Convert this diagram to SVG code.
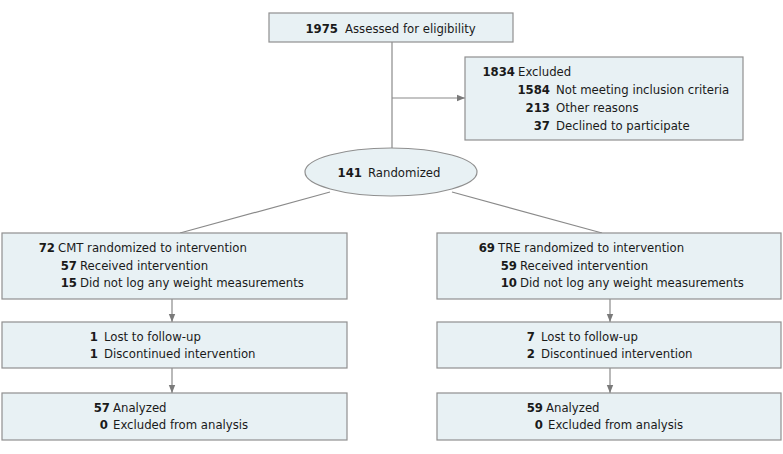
<svg xmlns="http://www.w3.org/2000/svg" width="783" height="454" viewBox="0 0 783 454">
<defs>
<style>
.box{fill:#e8f1f4;stroke:#8f8f8f;stroke-width:1.2}
.ln{stroke:#8a8a8a;stroke-width:1.2;fill:none}
text{font-family:"DejaVu Sans Condensed","Liberation Sans",Arial,sans-serif;font-size:13px;fill:#1a1a1a}
.n{font-weight:bold;text-anchor:end}
</style>
<marker id="ah" viewBox="0 0 10 10" refX="10" refY="5" markerWidth="8" markerHeight="8" markerUnits="userSpaceOnUse" orient="auto">
<path d="M0,1 L10,5 L0,9 Z" fill="#7a7a7a"/>
</marker>
</defs>
<rect width="783" height="454" fill="#ffffff"/>
<g id="connectors">
<line class="ln" x1="392" y1="42" x2="392" y2="148"/>
<line class="ln" x1="392" y1="98" x2="465" y2="98" marker-end="url(#ah)"/>
<line class="ln" x1="330" y1="192" x2="180" y2="233"/>
<line class="ln" x1="452" y1="192" x2="602" y2="233"/>
<line class="ln" x1="172" y1="299" x2="172" y2="322" marker-end="url(#ah)"/>
<line class="ln" x1="172" y1="368" x2="172" y2="393" marker-end="url(#ah)"/>
<line class="ln" x1="610" y1="299" x2="610" y2="322" marker-end="url(#ah)"/>
<line class="ln" x1="610" y1="368" x2="610" y2="393" marker-end="url(#ah)"/>
</g>
<g id="assessed">
<rect class="box" x="269" y="13" width="244" height="29"/>
<text class="n" x="338" y="33">1975</text><text x="345" y="33">Assessed for eligibility</text>
</g>
<g id="excluded">
<rect class="box" x="465" y="57" width="278" height="83"/>
<text class="n" x="515" y="76">1834</text><text x="518" y="76">Excluded</text>
<text class="n" x="550" y="94">1584</text><text x="556" y="94">Not meeting inclusion criteria</text>
<text class="n" x="550" y="112">213</text><text x="556" y="112">Other reasons</text>
<text class="n" x="550" y="130">37</text><text x="556" y="130">Declined to participate</text>
</g>
<g id="randomized">
<ellipse class="box" cx="391" cy="172" rx="86" ry="24"/>
<text class="n" x="362" y="177">141</text><text x="368" y="177">Randomized</text>
</g>
<g id="cmt">
<rect class="box" x="2" y="233" width="345" height="66"/>
<text class="n" x="55" y="252">72</text><text x="58" y="252">CMT randomized to intervention</text>
<text class="n" x="77" y="269.5">57</text><text x="80" y="269.5">Received intervention</text>
<text class="n" x="77" y="287">15</text><text x="80" y="287">Did not log any weight measurements</text>
</g>
<g id="tre">
<rect class="box" x="437" y="233" width="344" height="66"/>
<text class="n" x="495" y="252">69</text><text x="498" y="252">TRE randomized to intervention</text>
<text class="n" x="517" y="269.5">59</text><text x="520" y="269.5">Received intervention</text>
<text class="n" x="517" y="287">10</text><text x="520" y="287">Did not log any weight measurements</text>
</g>
<g id="cmt-followup">
<rect class="box" x="2" y="322" width="345" height="46"/>
<text class="n" x="98" y="341">1</text><text x="104" y="341">Lost to follow-up</text>
<text class="n" x="98" y="358">1</text><text x="104" y="358">Discontinued intervention</text>
</g>
<g id="tre-followup">
<rect class="box" x="437" y="322" width="344" height="46"/>
<text class="n" x="535" y="341">7</text><text x="541" y="341">Lost to follow-up</text>
<text class="n" x="535" y="358">2</text><text x="541" y="358">Discontinued intervention</text>
</g>
<g id="cmt-analysis">
<rect class="box" x="2" y="393" width="345" height="47"/>
<text class="n" x="110" y="412">57</text><text x="113" y="412">Analyzed</text>
<text class="n" x="108" y="429">0</text><text x="113" y="429">Excluded from analysis</text>
</g>
<g id="tre-analysis">
<rect class="box" x="437" y="393" width="344" height="47"/>
<text class="n" x="543" y="412">59</text><text x="546" y="412">Analyzed</text>
<text class="n" x="543" y="429">0</text><text x="548" y="429">Excluded from analysis</text>
</g>
</svg>
